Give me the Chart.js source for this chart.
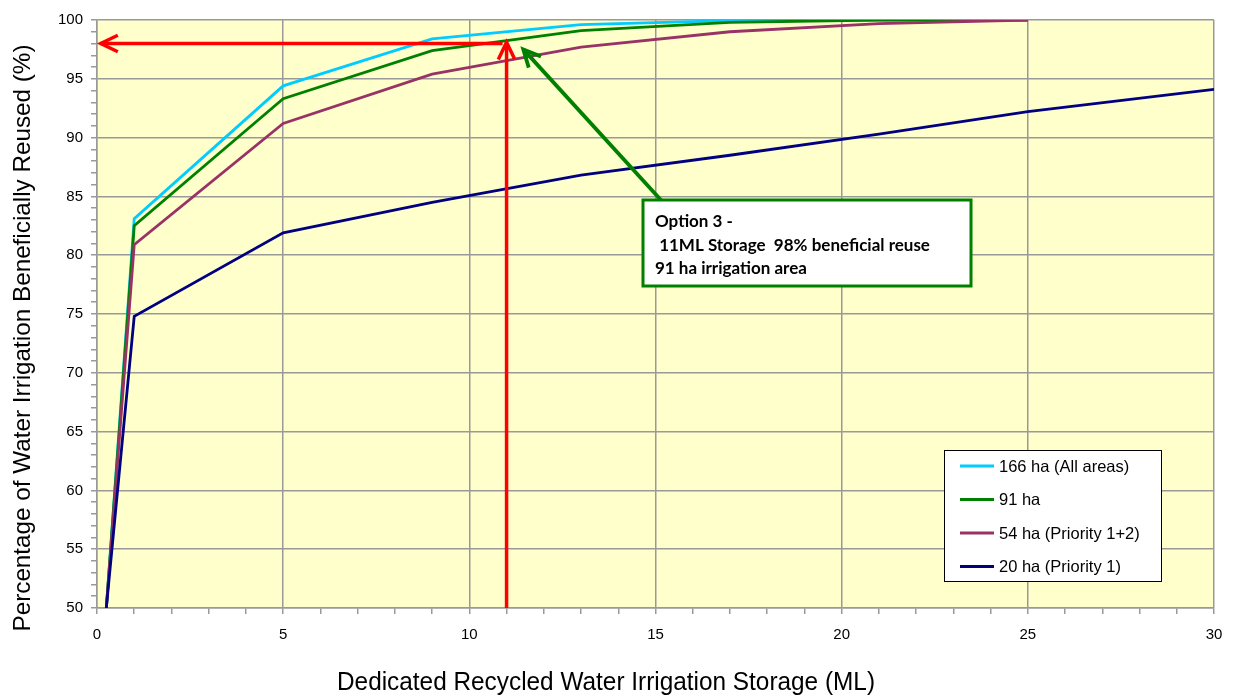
<!DOCTYPE html>
<html>
<head>
<meta charset="utf-8">
<script src="https://cdn.jsdelivr.net/npm/chart.js@4/dist/chart.umd.min.js"></script>
<style>
  html, body { margin: 0; padding: 0; background: #fff; }
</style>
</head>
<body>
<canvas id="storageChart" width="1235" height="696"></canvas>
<script>
// ---------- data ----------
const storageML = [0.25, 1, 5, 9, 13, 17, 21, 25, 30];
const reuse166 = [50, 83.1, 94.4, 98.4, 99.6, 99.95, 100, 100, null];
const reuse91  = [50, 82.5, 93.3, 97.4, 99.1, 99.8, 100, 100, null];
const reuse54  = [50, 80.9, 91.2, 95.4, 97.7, 99.0, 99.7, 100, null];
const reuse20  = [50, 74.8, 81.9, 84.5, 86.8, 88.5, 90.3, 92.2, 94.1];

const seriesNames = ["166 ha (All areas)", "91 ha", "54 ha (Priority 1+2)", "20 ha (Priority 1)"];
const seriesColors = ["#00CCFF", "#008000", "#993366", "#000080"];

// chosen option: 11 ML storage, 98 % reuse
const optionStorage = 11;
const optionReuse = 98;
// green pointer: tail at box corner, tip near the 91 ha curve
const pointerTail = [15.2, 84.5];
const pointerTip = [11.45, 97.5];
const noteLines = ["Option 3 -", " 11ML Storage  98% beneficial reuse", "91 ha irrigation area"];

const xTitle = "Dedicated Recycled Water Irrigation Storage (ML)";
const yTitle = "Percentage of Water Irrigation Beneficially Reused (%)";

const allSeries = [reuse166, reuse91, reuse54, reuse20];

const datasets = allSeries.map((vals, i) => ({
  label: seriesNames[i],
  data: storageML.map((x, k) => ({ x: x, y: vals[k] })),
  borderColor: seriesColors[i],
  backgroundColor: seriesColors[i],
  borderWidth: 2.8,
  pointRadius: 0,
  tension: 0,
  spanGaps: false,
  order: allSeries.length - i   // later series drawn on top, like the original
}));

// ---------- helpers ----------
function arrow(ctx, x1, y1, x2, y2, color, width, head) {
  ctx.save();
  ctx.strokeStyle = color;
  ctx.lineWidth = width;
  ctx.lineJoin = 'miter';
  ctx.beginPath();
  ctx.moveTo(x1, y1);
  ctx.lineTo(x2, y2);
  ctx.stroke();
  const ang = Math.atan2(y2 - y1, x2 - x1);
  ctx.beginPath();
  ctx.moveTo(x2 - head * Math.cos(ang - 0.45), y2 - head * Math.sin(ang - 0.45));
  ctx.lineTo(x2, y2);
  ctx.lineTo(x2 - head * Math.cos(ang + 0.45), y2 - head * Math.sin(ang + 0.45));
  ctx.stroke();
  ctx.restore();
}

function fitText(ctx, text, cx, cy, targetWidth) {
  const w = ctx.measureText(text).width;
  const k = targetWidth / w;
  ctx.save();
  ctx.translate(cx, cy);
  ctx.scale(k, 1);
  ctx.fillText(text, 0, 0);
  ctx.restore();
}

// ---------- plugins ----------
const plotBackground = {
  id: 'plotBackground',
  beforeDraw(chart) {
    const { ctx, chartArea: a } = chart;
    ctx.save();
    ctx.fillStyle = '#FFFFCC';
    ctx.fillRect(a.left, a.top, a.right - a.left, a.bottom - a.top);
    ctx.restore();
  }
};

const overlay = {
  id: 'overlay',
  afterDraw(chart) {
    const { ctx } = chart;
    const xs = chart.scales.x, ys = chart.scales.y;

    // axis titles
    ctx.save();
    ctx.fillStyle = '#000';
    ctx.textAlign = 'center';
    ctx.textBaseline = 'middle';
    ctx.font = '25px "Liberation Sans", Arial, sans-serif';
    fitText(ctx, xTitle, 606, 683, 538);
    ctx.font = '24px "Liberation Sans", Arial, sans-serif';
    ctx.translate(23, 338);
    ctx.rotate(-Math.PI / 2);
    fitText(ctx, yTitle, 0, 0, 587);
    ctx.restore();

    // red arrows for the chosen option
    const ox = xs.getPixelForValue(optionStorage);
    const oy = ys.getPixelForValue(optionReuse);
    arrow(ctx, ox - 4, oy, xs.getPixelForValue(0.1), oy, '#FF0000', 3.5, 19);
    arrow(ctx, ox, ys.getPixelForValue(50), ox, ys.getPixelForValue(optionReuse + 0.1), '#FF0000', 3.5, 19);

    // green pointer
    arrow(ctx, xs.getPixelForValue(pointerTail[0]), ys.getPixelForValue(pointerTail[1]),
               xs.getPixelForValue(pointerTip[0]), ys.getPixelForValue(pointerTip[1]), '#008000', 3.8, 19);

    // note box
    ctx.save();
    ctx.fillStyle = '#FFFFFF';
    ctx.fillRect(643, 200, 328, 86);
    ctx.strokeStyle = '#008000';
    ctx.lineWidth = 3;
    ctx.strokeRect(643, 200, 328, 86);
    ctx.fillStyle = '#000';
    ctx.font = 'bold 17px Lato, "Open Sans", sans-serif';
    ctx.textAlign = 'left';
    ctx.textBaseline = 'alphabetic';
    ctx.fillText(noteLines[0], 655, 227);
    ctx.fillText(noteLines[1], 655, 251);
    ctx.fillText(noteLines[2], 655, 274);
    ctx.restore();

    // legend box
    ctx.save();
    ctx.fillStyle = '#FFFFFF';
    ctx.fillRect(944.5, 450.5, 217, 131);
    ctx.strokeStyle = '#000';
    ctx.lineWidth = 1;
    ctx.strokeRect(944.5, 450.5, 217, 131);
    ctx.font = '16.5px "Liberation Sans", Arial, sans-serif';
    ctx.textBaseline = 'middle';
    ctx.textAlign = 'left';
    seriesNames.forEach((name, i) => {
      const y = 466 + i * 33.5;
      ctx.strokeStyle = seriesColors[i];
      ctx.lineWidth = 2.8;
      ctx.beginPath();
      ctx.moveTo(960, y);
      ctx.lineTo(994, y);
      ctx.stroke();
      ctx.fillStyle = '#000';
      ctx.fillText(name, 999, y + 1);
    });
    ctx.restore();
  }
};

// ---------- chart ----------
const tickFont = { family: '"Liberation Sans", Arial, sans-serif', size: 15 };
const majorGrid = (step) => (c) => (c.tick && Math.abs(c.tick.value % step) < 1e-9) ? '#999999' : 'rgba(0,0,0,0)';

new Chart(document.getElementById('storageChart').getContext('2d'), {
  type: 'line',
  data: { datasets },
  options: {
    responsive: false,
    animation: false,
    layout: { padding: { left: 0, top: 20, right: 21, bottom: 0 } },
    plugins: { legend: { display: false }, tooltip: { enabled: false } },
    scales: {
      x: {
        type: 'linear',
        min: 0,
        max: 30,
        afterFit(s) { s.height = 88; },
        ticks: {
          stepSize: 1,
          maxTicksLimit: 100,
          autoSkip: false,
          maxRotation: 0,
          padding: 12,
          color: '#000',
          font: tickFont,
          callback: v => (v % 5 === 0 ? String(v) : '')
        },
        grid: { color: majorGrid(5), lineWidth: 1.5, tickLength: 6, tickColor: '#999999' },
        border: { color: '#999999', width: 1.5 }
      },
      y: {
        min: 50,
        max: 100,
        afterFit(s) { s.width = 97; },
        ticks: {
          stepSize: 1,
          maxTicksLimit: 100,
          autoSkip: false,
          padding: 8,
          color: '#000',
          font: tickFont,
          callback: v => (v % 5 === 0 ? String(v) : '')
        },
        grid: { color: majorGrid(5), lineWidth: 1.5, tickLength: 6, tickColor: '#999999' },
        border: { color: '#999999', width: 1.5 }
      }
    }
  },
  plugins: [plotBackground, overlay]
});
</script>
</body>
</html>
